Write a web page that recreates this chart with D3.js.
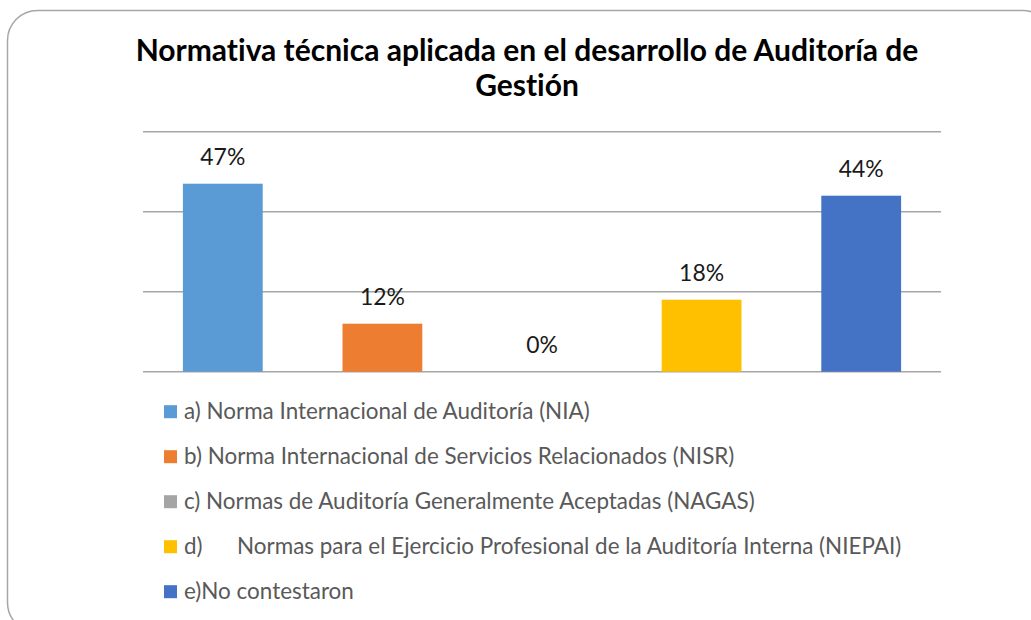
<!DOCTYPE html>
<html>
<head>
<meta charset="utf-8">
<script src="https://cdn.jsdelivr.net/npm/d3@7"></script>
<style>
  body { margin: 0; background: #fff; }
  svg text { font-family: Lato, "Open Sans", sans-serif; font-variant-ligatures: none; font-feature-settings: "liga" 0, "clig" 0; }
</style>
</head>
<body>
<div id="chart"></div>
<script>
// datos del grafico
const categorias = ["a", "b", "c", "d", "e"];
const valores = [47, 12, 0, 18, 44];
const etiquetas = ["47%", "12%", "0%", "18%", "44%"];
const leyenda = [
  "a) Norma Internacional de Auditoría (NIA)",
  "b) Norma Internacional de Servicios Relacionados (NISR)",
  "c) Normas de Auditoría Generalmente Aceptadas (NAGAS)",
  "d)      Normas para el Ejercicio Profesional de la Auditoría Interna (NIEPAI)",
  "e)No contestaron"
];
const colores = ["#5b9bd5", "#ed7d31", "#a5a5a5", "#ffc000", "#4472c4"];
const ticks = [0, 20, 40, 60];
const titulo = ["Normativa técnica aplicada en el desarrollo de Auditoría de", "Gestión"];

const width = 1031, height = 620;

const svg = d3.select("#chart").append("svg")
  .attr("width", width)
  .attr("height", height);

// borde redondeado (se sale por la derecha y abajo)
svg.append("rect")
  .attr("x", 7.5).attr("y", 10.5)
  .attr("width", 1045).attr("height", 622)
  .attr("rx", 30).attr("ry", 30)
  .style("fill", "#fff")
  .style("stroke", "#a6a6a6")
  .style("stroke-width", 1.5);

// ajusta tamano de fuente a un ancho objetivo
function ajustar(sel, ancho) {
  const w = sel.node().getComputedTextLength();
  const fs = parseFloat(sel.style("font-size"));
  sel.style("font-size", (fs * ancho / w) + "px");
  return fs * ancho / w;
}

// titulo
const t1 = svg.append("text")
  .attr("x", 527).attr("y", 61)
  .attr("text-anchor", "middle")
  .style("font-weight", "bold").style("font-size", "26px").style("fill", "#000")
  .text(titulo[0]);
const fsTitulo = ajustar(t1, 783);
svg.append("text")
  .attr("x", 527).attr("y", 96)
  .attr("text-anchor", "middle")
  .style("font-weight", "bold").style("font-size", fsTitulo + "px").style("fill", "#000")
  .text(titulo[1]);

// escalas
const x = d3.scaleBand()
  .domain(categorias)
  .range([143, 941])
  .paddingInner(0.5)
  .paddingOuter(0.25);

const y = d3.scaleLinear()
  .domain([0, 60])
  .range([371.7, 131.7]);

// lineas de cuadricula
svg.append("g")
  .selectAll("line")
  .data(ticks)
  .enter()
  .append("line")
  .attr("x1", 143).attr("x2", 941)
  .attr("y1", d => y(d)).attr("y2", d => y(d))
  .style("stroke", "#a6a6a6")
  .style("stroke-width", 1.5);

// barras
svg.append("g")
  .selectAll("rect")
  .data(valores)
  .enter()
  .append("rect")
  .attr("x", (d, i) => x(categorias[i]))
  .attr("width", x.bandwidth())
  .attr("y", d => y(d))
  .attr("height", d => y(0) - y(d))
  .style("fill", (d, i) => colores[i]);

// etiquetas de valor
const valTexts = svg.append("g")
  .selectAll("text")
  .data(valores)
  .enter()
  .append("text")
  .attr("x", (d, i) => x(categorias[i]) + x.bandwidth() / 2)
  .attr("y", d => y(d) - 19)
  .attr("text-anchor", "middle")
  .style("font-size", "20px")
  .style("fill", "#1a1a1a")
  .text((d, i) => etiquetas[i]);
const fsVal = ajustar(d3.select(valTexts.nodes()[0]), 45);
valTexts.style("font-size", fsVal + "px");

// leyenda
const leg = svg.append("g")
  .selectAll("g")
  .data(leyenda)
  .enter()
  .append("g")
  .attr("transform", (d, i) => "translate(164," + (411.7 + i * 45) + ")");

leg.append("rect")
  .attr("x", 0).attr("y", -6.5)
  .attr("width", 13).attr("height", 13)
  .style("fill", (d, i) => colores[i]);

const legTexts = leg.append("text")
  .attr("x", 20).attr("y", 7)
  .attr("xml:space", "preserve")
  .style("white-space", "pre")
  .style("font-size", "18px")
  .style("fill", "#595959")
  .text(d => d);

const fsLeg = ajustar(d3.select(legTexts.nodes()[0]), 406);
legTexts.style("font-size", fsLeg + "px");
</script>
</body>
</html>
